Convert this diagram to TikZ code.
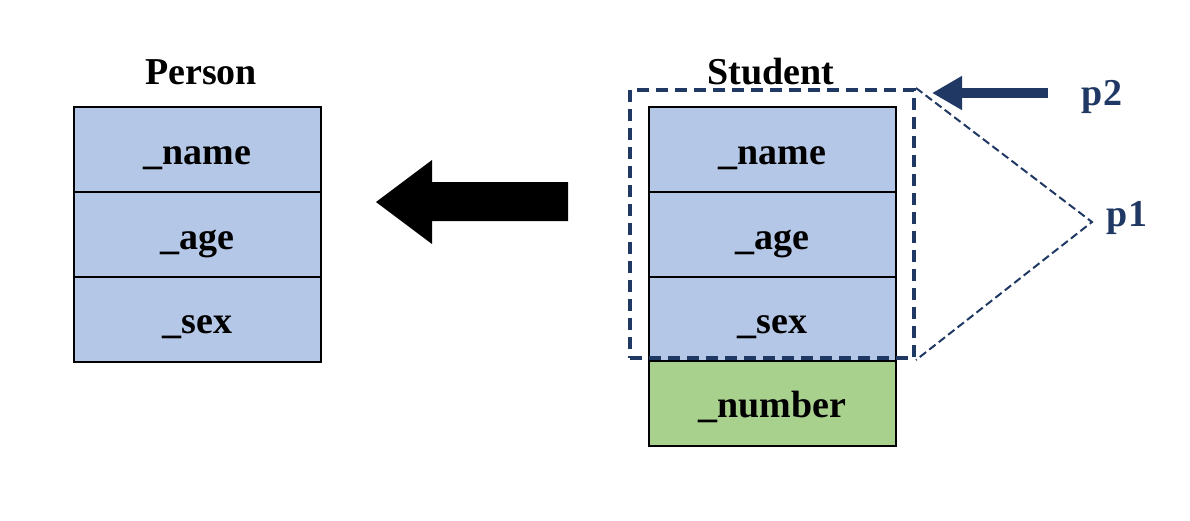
\documentclass[tikz,border=0pt]{standalone}
\usepackage{fontspec}
\setmainfont{Liberation Serif}
\usetikzlibrary{arrows.meta}
\definecolor{cellblue}{HTML}{B4C7E7}
\definecolor{cellgreen}{HTML}{A9D18E}
\definecolor{navy}{HTML}{203864}
\tikzset{
  cell/.style={draw, line width=1pt, fill=cellblue, minimum width=123.5pt,
    minimum height=42.5pt, inner sep=0pt, text height=14.5pt, text depth=0pt,
    font=\fontsize{19}{22}\selectfont\bfseries},
  title/.style={font=\fontsize{19}{22}\selectfont\bfseries},
  plabel/.style={text=navy, font=\fontsize{19}{22}\selectfont\bfseries}
}
\begin{document}
\begin{tikzpicture}[x=0.5pt,y=-0.5pt]
  \useasboundingbox (0,0) rectangle (1190,520);
  % Person
  \node[title] (person) at (201,72) {Person};
  \node[cell] (pname) at (197.5,149.5) {\_name};
  \node[cell] (page) at (197.5,234.5) {\_age};
  \node[cell] (psex) at (197.5,319) {\_sex};
  % Student
  \node[title] (student) at (771,72) {Student};
  \node[cell] (sname) at (772.5,149.5) {\_name};
  \node[cell] (sage) at (772.5,234.5) {\_age};
  \node[cell] (ssex) at (772.5,319) {\_sex};
  \node[cell, fill=cellgreen] (snumber) at (772.5,403) {\_number};
  % inheritance arrow
  \fill (376,202) -- (432,160) -- (432,182) -- (568,182) -- (568,221) -- (432,221) -- (432,244) -- cycle;
  % dashed frame
  \node[draw=navy, line width=2pt, dash pattern=on 6pt off 3.5pt, minimum width=142pt,
    minimum height=134pt, inner sep=0pt] (frame) at (772,224) {};
  \coordinate (ptip) at (1092,222);
  \draw[navy, line width=1pt, dash pattern=on 4pt off 2pt] (frame.north east) -- (ptip) -- (frame.south east);
  \node[plabel] (p1) at (1127,218) {p1};
  \node[plabel] (p2) at (1102,97) {p2};
  \coordinate (p2tail) at (1048,93);
  \draw[navy, line width=5pt, -{Triangle[length=15pt,width=16pt]}] (p2tail) -- (932,93);
\end{tikzpicture}
\end{document}
